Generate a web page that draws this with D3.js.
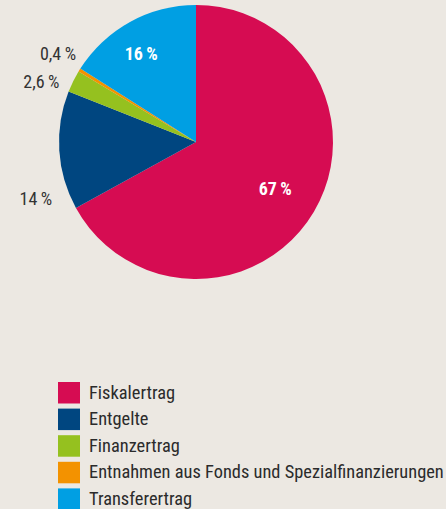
<!DOCTYPE html>
<html>
<head>
<meta charset="utf-8">
<script src="https://cdn.jsdelivr.net/npm/d3@7"></script>
<style>
  body { margin: 0; background: #ece8e2; }
  svg { display: block; }
  text { font-family: "Liberation Sans Narrow", "Arial Narrow", "Roboto Condensed", sans-serif; }
</style>
</head>
<body>
<div id="chart"></div>
<script>
// Data
var categories = ["Fiskalertrag", "Entgelte", "Finanzertrag", "Entnahmen aus Fonds und Spezialfinanzierungen", "Transferertrag"];
var shares = [67, 14, 2.6, 0.4, 16];
var shareLabels = ["67\u2009%", "14\u2009%", "2,6\u2009%", "0,4\u2009%", "16\u2009%"];
var colors = ["#d60c52", "#004680", "#95c11f", "#f39200", "#009fe3"];

// Layout: which labels sit inside, label radius and angle nudges
var labelInside = [true, false, false, false, true];
var labelRadius = [92, 170, 166, 164, 104];
var labelNudge = [0, -16, -5, 1, -3];

var width = 446, height = 509;
var cx = 196, cy = 142, radius = 137;

var svg = d3.select("#chart").append("svg")
    .attr("width", width)
    .attr("height", height);

var data = categories.map(function(c, i) {
    return { name: c, value: shares[i], label: shareLabels[i], color: colors[i],
             inside: labelInside[i], r: labelRadius[i], nudge: labelNudge[i] };
});

var pie = d3.pie()
    .sort(null)
    .value(function(d) { return d.value; });

var arc = d3.arc().innerRadius(0).outerRadius(radius);

var g = svg.append("g")
    .attr("transform", "translate(" + cx + "," + cy + ")");

var arcs = pie(data);

g.selectAll("path")
    .data(arcs)
    .enter()
    .append("path")
    .attr("d", arc)
    .attr("fill", function(d) { return d.data.color; });

function labelAngle(d) {
    return (d.startAngle + d.endAngle) / 2 + d.data.nudge * Math.PI / 180;
}

// Slice labels
g.selectAll("text.pct")
    .data(arcs)
    .enter()
    .append("text")
    .attr("class", "pct")
    .attr("text-anchor", "middle")
    .attr("dy", "0.35em")
    .attr("x", function(d) { return d.data.r * Math.sin(labelAngle(d)); })
    .attr("y", function(d) { return -d.data.r * Math.cos(labelAngle(d)); })
    .style("font-size", "18px")
    .style("font-weight", function(d) { return d.data.inside ? "bold" : "normal"; })
    .attr("fill", function(d) { return d.data.inside ? "#ffffff" : "#333333"; })
    .text(function(d) { return d.data.label; });

// Legend
var legend = svg.append("g")
    .attr("transform", "translate(58,382)");

var item = legend.selectAll("g")
    .data(data)
    .enter()
    .append("g")
    .attr("transform", function(d, i) { return "translate(0," + (i * 26.6) + ")"; });

item.append("rect")
    .attr("width", 22)
    .attr("height", 21.5)
    .attr("fill", function(d) { return d.color; });

item.append("text")
    .attr("x", 31)
    .attr("y", 16.5)
    .style("font-size", "18.4px")
    .attr("fill", "#2b2b2b")
    .text(function(d) { return d.name; });
</script>
</body>
</html>
